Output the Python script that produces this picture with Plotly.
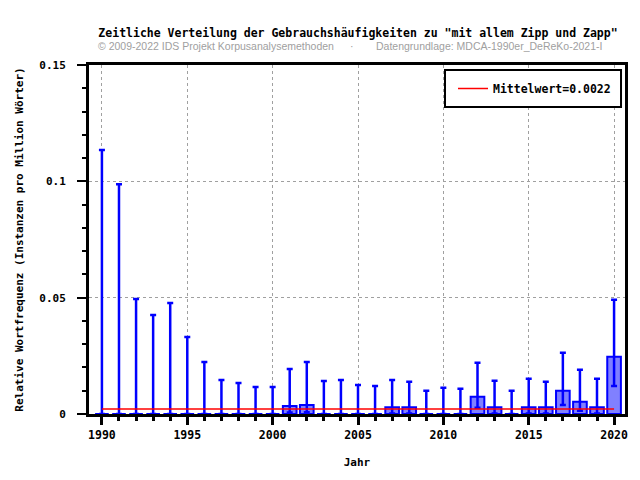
import plotly.graph_objects as go

years = list(range(1990, 2021))
values = [0, 0, 0, 0, 0, 0, 0, 0, 0, 0, 0, 0.0034, 0.0039, 0, 0, 0, 0, 0.0029, 0.0029, 0, 0, 0,
          0.0074, 0.0029, 0, 0.0029, 0.0029, 0.0100, 0.0053, 0.0029, 0.0246]
upper = [0.1135, 0.0988, 0.0494, 0.0425, 0.0477, 0.0331, 0.0223, 0.0146, 0.0133, 0.0116, 0.0116,
         0.0193, 0.0223, 0.0142, 0.0146, 0.0125, 0.0120, 0.0146, 0.0139, 0.0100, 0.0113, 0.0109,
         0.0220, 0.0143, 0.0100, 0.0152, 0.0139, 0.0263, 0.0190, 0.0152, 0.0491]
lower = [0, 0, 0, 0, 0, 0, 0, 0, 0, 0, 0, 0.0006, 0.0008, 0, 0, 0, 0, 0.0002, 0.0002, 0, 0, 0,
         0.0027, 0.0002, 0, 0.0002, 0.0002, 0.0039, 0.0014, 0.0002, 0.0120]
mean_value = 0.0022
mean_label = "Mittelwert=0.0022"

title = 'Zeitliche Verteilung der Gebrauchshäufigkeiten zu "mit allem Zipp und Zapp"'
credit = "© 2009-2022 IDS Projekt Korpusanalysemethoden"
source = "Datengrundlage: MDCA-1990er_DeReKo-2021-I"
x_title = "Jahr"
y_title = "Relative Wortfrequenz (Instanzen pro Million Wörter)"

MONO = "DejaVu Sans Mono"
SANS = "Liberation Sans"
W, H = 640, 480
L, R, T, B = 89, 628, 65, 414


def px_x(p):
    return (p - L) / (R - L)


def px_y(p):
    return (B - p) / (B - T)


plus = [u - v for u, v in zip(upper, values)]
minus = [v - lo for v, lo in zip(values, lower)]

fig = go.Figure()
fig.add_trace(go.Scatter(
    x=[years[0], years[-1]], y=[mean_value, mean_value], mode="lines",
    line=dict(color="#ff0000", width=1.5), name=mean_label, showlegend=True,
    hoverinfo="skip"))
fig.add_trace(go.Bar(
    x=years, y=values, width=0.8, showlegend=False,
    marker=dict(color="#8080ff", line=dict(color="#0000ff", width=2)),
    error_y=dict(type="data", symmetric=False, array=plus, arrayminus=minus,
                 color="#0000ff", thickness=2.5, width=3)))

fig.update_layout(
    width=W, height=H,
    margin=dict(l=L, r=W - R, t=T, b=H - B, pad=0),
    paper_bgcolor="white", plot_bgcolor="white",
    font=dict(family=MONO, size=11, color="black", weight="bold"),
    title=dict(text=title, x=358 / W, xanchor="center", y=1 - 33 / H, yanchor="middle",
               xref="container", yref="container",
               font=dict(family=MONO, size=11.5, color="black", weight="bold")),
    showlegend=True,
    legend=dict(x=px_x(537), xanchor="center", y=px_y(88.5), yanchor="middle",
                bgcolor="rgba(0,0,0,0)", borderwidth=0,
                font=dict(family=MONO, size=11.5, color="black", weight="bold"),
                itemwidth=30),
    bargap=0.2,
    shapes=[dict(type="rect", xref="paper", yref="paper",
                 x0=px_x(447), x1=px_x(624), y0=px_y(107), y1=px_y(70),
                 fillcolor="white", line=dict(color="black", width=2), layer="above")],
)

fig.update_xaxes(
    range=[1989.243, 2020.64], tickmode="linear", tick0=1990, dtick=5,
    ticks="outside", ticklen=8, tickwidth=3, tickcolor="black",
    showline=True, linewidth=3, linecolor="black", mirror=True,
    showgrid=True, gridcolor="#a0a0a0", griddash="dot", gridwidth=1,
    zeroline=False,
    minor=dict(dtick=1, tick0=1990, ticks="outside", ticklen=4, tickwidth=3,
               tickcolor="black", showgrid=False),
    tickfont=dict(family=MONO, size=11.5, color="black", weight="bold"),
    title=dict(text=x_title, standoff=18,
               font=dict(family=MONO, size=11, color="black", weight="bold")),
)
fig.update_yaxes(
    range=[0, 0.15], tickmode="linear", tick0=0, dtick=0.05,
    ticks="outside", ticklen=9, tickwidth=2, tickcolor="black",
    showline=True, linewidth=3, linecolor="black", mirror=True,
    showgrid=True, gridcolor="#a0a0a0", griddash="dot", gridwidth=1,
    zeroline=False, ticklabelstandoff=9,
    minor=dict(dtick=0.01, tick0=0, ticks="outside", ticklen=4, tickwidth=2,
               tickcolor="black", showgrid=False),
    tickfont=dict(family=MONO, size=11, color="black", weight="bold"),
    title=dict(text=y_title, standoff=14,
               font=dict(family=MONO, size=11, color="black", weight="bold")),
)

sub_font = dict(family=SANS, size=10.5, color="#a0a0a0", weight="normal")
fig.add_annotation(text=credit, xref="paper", yref="paper", x=px_x(96), y=px_y(46),
                   xanchor="left", yanchor="middle", showarrow=False, font=sub_font)
fig.add_annotation(text="·", xref="paper", yref="paper", x=px_x(353), y=px_y(46),
                   xanchor="center", yanchor="middle", showarrow=False, font=sub_font)
fig.add_annotation(text=source, xref="paper", yref="paper", x=px_x(376), y=px_y(46),
                   xanchor="left", yanchor="middle", showarrow=False, font=sub_font)

fig.write_html("out.html")
